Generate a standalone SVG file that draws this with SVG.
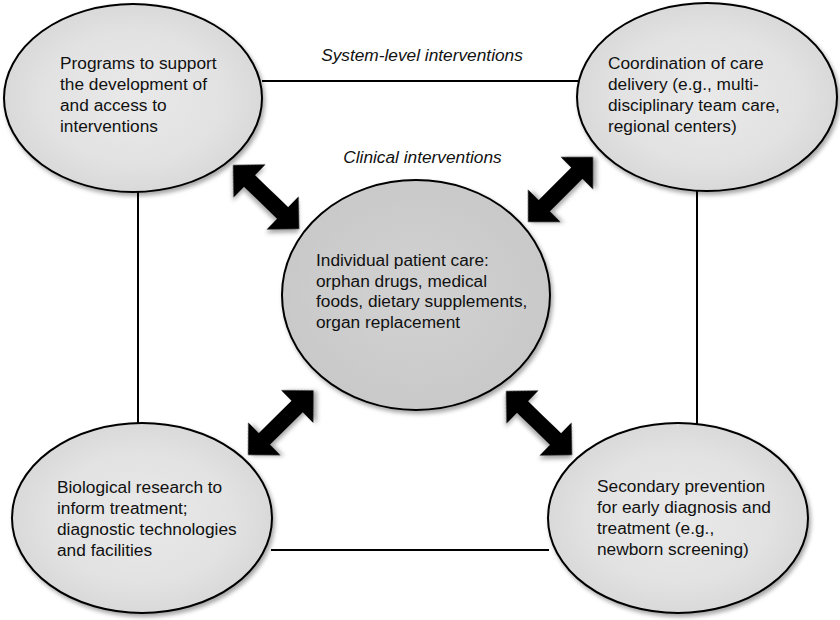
<svg xmlns="http://www.w3.org/2000/svg" width="840" height="620" viewBox="0 0 840 620">
  <defs>
    <radialGradient id="gOuter" cx="50%" cy="50%" r="50%">
      <stop offset="0%" stop-color="#e9e9e9"/>
      <stop offset="70%" stop-color="#e2e2e2"/>
      <stop offset="100%" stop-color="#d9d9d9"/>
    </radialGradient>
    <radialGradient id="gCenter" cx="50%" cy="50%" r="50%">
      <stop offset="0%" stop-color="#d2d2d2"/>
      <stop offset="100%" stop-color="#c9c9c9"/>
    </radialGradient>
    <filter id="shadow" x="-20%" y="-20%" width="140%" height="140%">
      <feDropShadow dx="2" dy="3" stdDeviation="2" flood-color="#000" flood-opacity="0.35"/>
    </filter>
    <path id="dbl" d="M0,0 L23,-23 L23,-8 L69,-8 L69,-23 L92,0 L69,23 L69,8 L23,8 L23,23 Z"/>
  </defs>
  <style>
    .node { stroke: #000; stroke-width: 2; filter: url(#shadow); }
    .outer { fill: url(#gOuter); }
    .center { fill: url(#gCenter); }
    .t { font-family: "Liberation Sans", Arial, Helvetica, sans-serif; font-size: 17.3px; fill: #111; }
    .it { font-family: "Liberation Sans", Arial, Helvetica, sans-serif; font-size: 17.3px; font-style: italic; fill: #111; text-anchor: middle; }
    .line { stroke: #000; stroke-width: 2; fill: none; }
    .arrow { fill: #000; filter: url(#shadow); }
  </style>
  <rect width="840" height="620" fill="#fff"/>

  <g id="connectors">
    <line class="line" x1="262" y1="81" x2="578" y2="81"/>
    <line class="line" x1="138" y1="192" x2="138" y2="424"/>
    <line class="line" x1="697" y1="191" x2="697" y2="424"/>
    <line class="line" x1="271" y1="550" x2="549" y2="550"/>
    <use href="#dbl" class="arrow" transform="translate(233,165) rotate(44)"/>
    <use href="#dbl" class="arrow" transform="translate(528,222) rotate(-45)"/>
    <use href="#dbl" class="arrow" transform="translate(248,455) rotate(-44.6)"/>
    <use href="#dbl" class="arrow" transform="translate(506,391) rotate(44.1)"/>
  </g>

  <g id="label-system">
    <text class="it" x="422" y="61">System-level interventions</text>
  </g>
  <g id="label-clinical">
    <text class="it" x="422.5" y="163">Clinical interventions</text>
  </g>

  <g id="node-programs">
    <ellipse class="node outer" cx="133" cy="98" rx="129" ry="94"/>
    <text class="t" x="60" y="69">Programs to support</text>
    <text class="t" x="60" y="90">the development of</text>
    <text class="t" x="60" y="111">and access to</text>
    <text class="t" x="60" y="132">interventions</text>
  </g>

  <g id="node-coordination">
    <ellipse class="node outer" cx="707" cy="97" rx="130" ry="94"/>
    <text class="t" x="608" y="69">Coordination of care</text>
    <text class="t" x="608" y="90">delivery (e.g., multi-</text>
    <text class="t" x="608" y="111">disciplinary team care,</text>
    <text class="t" x="608" y="132">regional centers)</text>
  </g>

  <g id="node-individual">
    <ellipse class="node center" cx="416" cy="295" rx="134" ry="115"/>
    <text class="t" x="316" y="266">Individual patient care:</text>
    <text class="t" x="316" y="286.7">orphan drugs, medical</text>
    <text class="t" x="316" y="307.3">foods, dietary supplements,</text>
    <text class="t" x="316" y="328">organ replacement</text>
  </g>

  <g id="node-biological">
    <ellipse class="node outer" cx="142" cy="518" rx="130" ry="95"/>
    <text class="t" x="57" y="493">Biological research to</text>
    <text class="t" x="57" y="514">inform treatment;</text>
    <text class="t" x="57" y="535">diagnostic technologies</text>
    <text class="t" x="57" y="556">and facilities</text>
  </g>

  <g id="node-secondary">
    <ellipse class="node outer" cx="678" cy="518" rx="130" ry="95"/>
    <text class="t" x="597" y="492">Secondary prevention</text>
    <text class="t" x="597" y="513">for early diagnosis and</text>
    <text class="t" x="597" y="534">treatment (e.g.,</text>
    <text class="t" x="597" y="555">newborn screening)</text>
  </g>
</svg>
